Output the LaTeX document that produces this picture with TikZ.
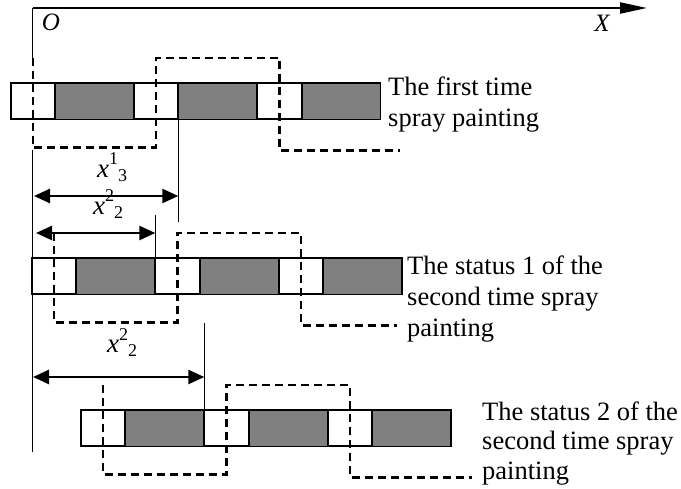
\documentclass[tikz,border=0pt]{standalone}
\usepackage{fontspec}
\setmainfont{Liberation Serif}
\usetikzlibrary{arrows.meta}
\definecolor{gray50}{HTML}{808080}
\tikzset{
  gcell/.style={draw, line width=1.5pt, fill=gray50, anchor=north west, minimum width=79pt, minimum height=36.5pt, inner sep=0pt, outer sep=0pt},
  wcell/.style={draw, line width=2pt, fill=white, anchor=north west, minimum width=44.3pt, minimum height=36.5pt, inner sep=0pt, outer sep=0pt},
  wave/.style={line width=2.4pt, dash pattern=on 8pt off 5pt},
  thinline/.style={line width=1.4pt},
  axisline/.style={line width=2.2pt, -{Triangle[length=27pt,width=11pt]}},
  dimarrow/.style={line width=2.6pt, {Triangle[length=16pt,width=14pt]}-{Triangle[length=16pt,width=14pt]}},
  lbl/.style={inner sep=0pt, anchor=base west, align=left, font=\fontsize{26.5}{31}\selectfont},
  axlbl/.style={inner sep=0pt, font=\fontsize{25}{25}\selectfont\itshape},
  dimlbl/.style={inner sep=0pt, anchor=base west, font=\fontsize{27}{30}\selectfont},
}
\newcommand\paintbar[3]{%
  \foreach \i/\o in {1/0,2/123.3,3/246.6}{
    \node[gcell] (#1g\i) at (#2+\o+44.3,#3) {};
  }
  \foreach \i/\o in {1/0,2/123.3,3/246.6}{
    \node[wcell] (#1w\i) at (#2+\o,#3) {};
  }
}
\newcommand\xlab[2]{\textit{x}\raisebox{13pt}{\fontsize{18}{18}\selectfont #1}\raisebox{-4pt}{\fontsize{18}{18}\selectfont #2}}
\begin{document}
\begin{tikzpicture}[x=1pt,y=-1pt]
\useasboundingbox (0,0) rectangle (681,489);
% axes
\coordinate (O) at (32.5,8);
\coordinate (Xend) at (647,8);
\draw[axisline] (O) -- (Xend);
\node[axlbl] (Olab) at (51,22) {O};
\node[axlbl] (Xlab) at (602,23.5) {X};
\coordinate (ax1) at (32.5,60);
\coordinate (ax2) at (32.5,150);
\coordinate (ax3) at (32.5,452);
\draw[thinline] (O) -- (ax1);
\draw[thinline] (ax2) -- (ax3);
% bars
\paintbar{r1}{10.7}{83}
\paintbar{r2}{32}{258}
\paintbar{r3}{81}{410}
% dashed waves
\draw[wave] ([yshift=25pt]r1w1.north) -- ([yshift=-28pt]r1w1.south) -| ([yshift=25pt]r1w2.north) -| ([yshift=-31pt]r1w3.south) -- ++(120.5,0);
\draw[wave] ([yshift=25pt]r2w1.north) -- ([yshift=-28pt]r2w1.south) -| ([yshift=25pt]r2w2.north) -| ([yshift=-31pt]r2w3.south) -- ++(96,0);
\draw[wave] ([yshift=25pt]r3w1.north) -- ([yshift=-28pt]r3w1.south) -| ([yshift=25pt]r3w2.north) -| ([yshift=-31pt]r3w3.south) -- ++(122,0);
% vertical reference lines
\coordinate (t1e) at ([yshift=-102.5pt]r1w2.south east);
\draw[thinline] (r1w2.south east) -- (t1e);
\coordinate (t2s) at ([yshift=43pt]r2w2.north west);
\draw[thinline] (t2s) -- (r2w2.north west);
\coordinate (t3s) at ([yshift=87pt]r3w2.north west);
\draw[thinline] (t3s) -- (r3w2.north west);
% dimension arrows
\coordinate (d1l) at (34,196);
\coordinate (d1r) at (r1w2.south east |- d1l);
\draw[dimarrow] (d1l) -- (d1r);
\coordinate (d2l) at (36,233);
\coordinate (d2r) at (r2w2.north west |- d2l);
\draw[dimarrow] (d2l) -- (d2r);
\coordinate (d3l) at (33,377);
\coordinate (d3r) at (r3w2.north west |- d3l);
\draw[dimarrow] (d3l) -- (d3r);
\node[dimlbl] (x13) at (97,178) {\xlab{1}{3}};
\node[dimlbl] (x22a) at (93,215) {\xlab{2}{2}};
\node[dimlbl] (x22b) at (107,353) {\xlab{2}{2}};
% texts (base anchor = baseline of the last line)
\node[lbl] (txt1) at (388,127) {The first time\\spray painting};
\node[lbl] (txt2) at (407,337) {The status 1 of the\\second time spray\\painting};
\node[lbl, font=\fontsize{26.5}{29.5}\selectfont] (txt3) at (482,479) {The status 2 of the\\second time spray\\painting};
\end{tikzpicture}
\end{document}
